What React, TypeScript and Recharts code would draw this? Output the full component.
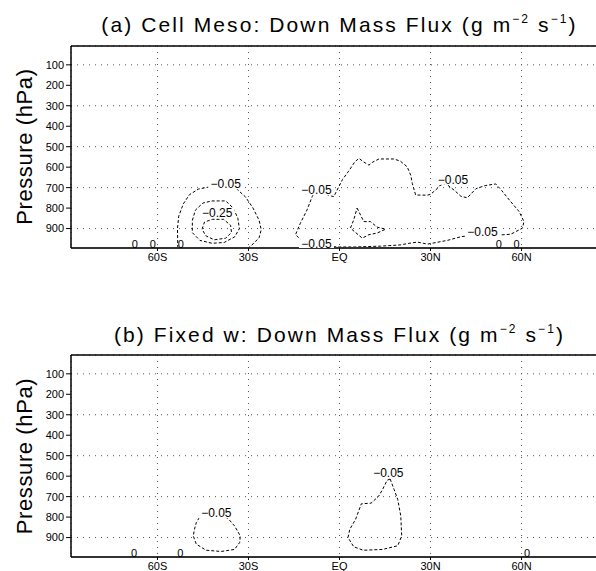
import React from 'react';
import { ComposedChart, Line, Scatter, XAxis, YAxis, CartesianGrid, ReferenceLine } from 'recharts';

// ---------- axis ticks ----------
const latTicks = [-60, -30, 0, 30, 60];
const latTickLabels = ['60S', '30S', 'EQ', '30N', '60N'];
const pressureTicks = [100, 200, 300, 400, 500, 600, 700, 800, 900];

// ---------- titles ----------
const titleA = '(a) Cell Meso: Down Mass Flux (g m';
const titleB = '(b) Fixed w: Down Mass Flux (g m';
const yLabel = 'Pressure (hPa)';

// ---------- panel (a) contours: [lat, pressure] ----------
const aSouthOuter = [
  [-53.3, 995], [-53.4, 900], [-53, 840], [-51.5, 780], [-49.5, 735], [-46.5, 707], [-43, 697],
  [-38, 693], [-34, 705], [-31, 745], [-28.5, 800], [-26.5, 860], [-25.8, 905], [-26.5, 945],
  [-28.5, 975], [-30, 995],
];
const aSouthMiddle = [
  [-48.5, 860], [-47.5, 810], [-45, 775], [-42, 765], [-37.5, 765], [-35, 800], [-33.5, 850],
  [-33, 900], [-34.5, 940], [-38, 968], [-42, 972], [-46, 958], [-48.5, 920], [-48.5, 860],
];
const aSouthInner = [
  [-45.3, 903], [-44.5, 868], [-41.9, 855], [-38.2, 855], [-35.9, 884], [-35.6, 919],
  [-37.5, 947], [-41.3, 955], [-44.1, 935], [-45.3, 903],
];
const aNorthBig = [
  [-7, 985], [-4, 988], [0, 990], [5, 990], [13.5, 986], [20, 980], [23, 972], [25.6, 966],
  [29, 976], [35.5, 958], [40, 940], [46, 928], [52, 932], [56.4, 928], [60.3, 898],
  [60.8, 866], [59.2, 817], [56.4, 768], [53.5, 715], [51.5, 682], [48, 690], [45, 705],
  [42.1, 750], [40, 742], [38, 715], [35, 680], [33, 690], [32.2, 705], [30, 733],
  [28.9, 737], [25.1, 736], [24, 680], [23.5, 640], [22.3, 598], [20, 570], [17.9, 560],
  [13, 560], [11, 575], [9.7, 590], [8, 575], [6.4, 557], [5, 575], [3, 620], [1, 660],
  [-1.9, 744], [-4, 735], [-7.9, 711], [-9, 744], [-10.7, 809], [-12.9, 874],
  [-14.5, 930], [-12, 965], [-9, 982], [-7, 985],
];
const aNorthTriangle = [
  [5.8, 800], [8, 866], [10.2, 866], [12.4, 893], [15.2, 903], [12.4, 922], [9.7, 930],
  [7.5, 947], [3.6, 898], [4.7, 857], [5.8, 800],
];

// ---------- panel (b) contours ----------
const bSouth = [
  [-40.6, 782], [-38.5, 790], [-36.5, 811], [-34.6, 843], [-32.7, 892], [-32.9, 924],
  [-34.6, 958], [-39, 968], [-44, 962], [-47.2, 932], [-48.2, 892], [-47.8, 859],
  [-47.2, 827], [-45.9, 795], [-43, 785], [-40.6, 782],
];
const bNorth = [
  [16.7, 614], [18, 665], [19.2, 714], [20.2, 795], [20.5, 892], [19.2, 940], [14.2, 958],
  [7.8, 962], [4.7, 945], [2.8, 900], [3.4, 859], [5.3, 811], [7.2, 735], [10.4, 732],
  [12.9, 698], [14.2, 665], [15.7, 620], [16.7, 614],
];

// ---------- contour labels ----------
const aLabelLat = [-37.5, -40.3, -7.6, -7.6, 37.4, 47.1];
const aLabelP = [684, 823, 713, 976, 661, 919];
const aLabelText = ['−0.05', '−0.25', '−0.05', '−0.05', '−0.05', '−0.05'];
const aZeroLat = [-67.5, -61.5, -52.3, 52.5, 58.4];
const bLabelLat = [-40.6, 16.1];
const bLabelP = [782, 585];
const bLabelText = ['−0.05', '−0.05'];
const bZeroLat = [-67.7, -52.5, 61.8];
const zeroP = 975;

const FONT = '"Liberation Sans", Arial, Helvetica, sans-serif';

const toPts = (arr: number[][]) => arr.map(([lat, p]) => ({ lat, p }));

const LabelShape = (props: any) => {
  const { cx, cy, payload } = props;
  if (cx == null || cy == null) return null;
  const txt: string = payload.text;
  const w = payload.bg ? txt.length * 6.6 + 2 : 0;
  return (
    <g>
      {payload.bg ? <rect x={cx - w / 2} y={cy - 5} width={w} height={10} fill="#fff" stroke="none" /> : null}
      <text
        x={cx}
        y={cy}
        textAnchor="middle"
        dominantBaseline="central"
        fontSize={payload.bg ? 12 : 11}
        fontFamily={FONT}
        fill="#000"
        stroke="none"
        style={{ fill: '#000' }}
      >
        {txt}
      </text>
    </g>
  );
};

type PanelProps = {
  top: number;
  contours: number[][][];
  labels: { lat: number; p: number; text: string; bg: boolean }[];
};

const Panel = ({ top, contours, labels }: PanelProps) => (
  <div style={{ position: 'absolute', left: 0, top }}>
    <ComposedChart width={608} height={278} margin={{ top: 46, right: 0, bottom: 0, left: 0 }}>
      <CartesianGrid stroke="#555" strokeDasharray="1 5" strokeWidth={1} />
      <XAxis
        dataKey="lat"
        type="number"
        domain={[-88.5, 88.5]}
        ticks={latTicks}
        allowDataOverflow
        height={30}
        tickFormatter={(v: number) => latTickLabels[latTicks.indexOf(v)]}
        tick={{ fontSize: 11, fill: '#000', fontFamily: FONT }}
        tickSize={3}
        tickMargin={2}
        axisLine={{ stroke: '#333', strokeWidth: 2 }}
        tickLine={{ stroke: '#000' }}
      />
      <YAxis
        dataKey="p"
        type="number"
        domain={[8, 995]}
        reversed
        ticks={pressureTicks}
        allowDataOverflow
        width={71}
        tick={{ fontSize: 11, fill: '#000', fontFamily: FONT }}
        tickSize={5}
        tickMargin={2}
        axisLine={{ stroke: '#000', strokeWidth: 1.5 }}
        tickLine={{ stroke: '#000' }}
      />
      <ReferenceLine y={8} stroke="#000" strokeWidth={1.5} />
      {contours.map((c, i) => (
        <Line
          key={i}
          data={toPts(c)}
          dataKey="p"
          type="linear"
          stroke="#000"
          strokeWidth={1}
          strokeDasharray="3 2"
          dot={false}
          activeDot={false}
          isAnimationActive={false}
        />
      ))}
      <Scatter data={labels} dataKey="p" fill="#000" shape={LabelShape} isAnimationActive={false} />
    </ComposedChart>
  </div>
);

const aLabels = [
  ...aLabelLat.map((lat, i) => ({ lat, p: aLabelP[i], text: aLabelText[i], bg: true })),
  ...aZeroLat.map((lat) => ({ lat, p: zeroP, text: '0', bg: false })),
];
const bLabels = [
  ...bLabelLat.map((lat, i) => ({ lat, p: bLabelP[i], text: bLabelText[i], bg: true })),
  ...bZeroLat.map((lat) => ({ lat, p: zeroP, text: '0', bg: false })),
];

const Title = ({ y, text }: { y: number; text: string }) => (
  <text x={339.5} y={y} textAnchor="middle" fontSize={21} fontFamily={FONT} letterSpacing={2.1} fill="#000">
    {text}
    <tspan fontSize={12} dy={-9}>−2</tspan>
    <tspan dy={9}> s</tspan>
    <tspan fontSize={12} dy={-9}>−1</tspan>
    <tspan dy={9}>)</tspan>
  </text>
);

const YTitle = ({ cy }: { cy: number }) => (
  <text
    transform={`translate(31.5, ${cy}) rotate(-90)`}
    textAnchor="middle"
    fontSize={22}
    fontFamily={FONT}
    letterSpacing={0.6}
    fill="#000"
  >
    {yLabel}
  </text>
);

export default function App() {
  return (
    <div
      style={{
        position: 'fixed',
        left: 0,
        top: 0,
        width: 596,
        height: 571,
        overflow: 'hidden',
        background: '#fff',
      }}
    >
      <Panel top={0} contours={[aSouthOuter, aSouthMiddle, aSouthInner, aNorthBig, aNorthTriangle]} labels={aLabels} />
      <Panel top={309} contours={[bSouth, bNorth]} labels={bLabels} />
      <svg
        width={596}
        height={571}
        style={{ position: 'absolute', left: 0, top: 0, pointerEvents: 'none' }}
      >
        <Title y={32} text={titleA} />
        <Title y={341.5} text={titleB} />
        <YTitle cy={146.6} />
        <YTitle cy={456} />
      </svg>
    </div>
  );
}
